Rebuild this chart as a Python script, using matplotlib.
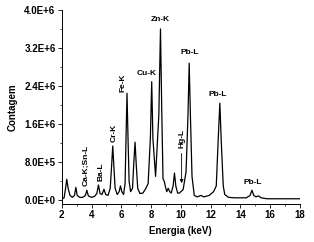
import matplotlib
matplotlib.use('Agg')
import matplotlib.pyplot as plt
from matplotlib.ticker import MultipleLocator, FuncFormatter

plt.rcParams['font.family'] = ['Liberation Sans', 'DejaVu Sans']
plt.rcParams['font.weight'] = 'bold'
plt.rcParams['font.size'] = 6

# spectrum (keV, counts)
energy = [2.00, 2.15, 2.25, 2.33, 2.42, 2.55, 2.70, 2.85, 2.94, 3.03,
          3.20, 3.40, 3.58, 3.68, 3.78, 4.00, 4.20, 4.35, 4.46, 4.57,
          4.70, 4.83, 4.95, 5.10, 5.25, 5.35, 5.42, 5.49, 5.58, 5.72,
          5.85, 5.94, 6.03, 6.15, 6.25, 6.32, 6.38, 6.44, 6.52, 6.62,
          6.75, 6.83, 6.92, 7.00, 7.10, 7.25, 7.45, 7.65, 7.80, 7.95,
          8.04, 8.12, 8.30, 8.52, 8.63, 8.72, 8.80, 8.88, 8.95, 9.05,
          9.15, 9.25, 9.35, 9.48, 9.57, 9.66, 9.78, 9.90, 10.00, 10.15,
          10.35, 10.48, 10.56, 10.64, 10.75, 10.90, 11.10, 11.35, 11.55, 11.90,
          12.20, 12.38, 12.50, 12.62, 12.72, 12.85, 12.95, 13.20, 13.60, 14.00,
          14.40, 14.65, 14.78, 14.90, 15.05, 15.22, 15.40, 15.80, 16.50, 17.50,
          18.00]
counts = [0.02e6, 0.05e6, 0.25e6, 0.44e6, 0.25e6, 0.10e6, 0.06e6, 0.10e6, 0.27e6, 0.10e6,
          0.06e6, 0.06e6, 0.10e6, 0.21e6, 0.09e6, 0.06e6, 0.08e6, 0.14e6, 0.32e6, 0.14e6,
          0.12e6, 0.23e6, 0.12e6, 0.10e6, 0.25e6, 0.75e6, 1.14e6, 0.75e6, 0.25e6, 0.12e6,
          0.18e6, 0.30e6, 0.18e6, 0.12e6, 0.35e6, 1.40e6, 2.25e6, 1.40e6, 0.40e6, 0.18e6,
          0.25e6, 0.75e6, 1.22e6, 0.75e6, 0.25e6, 0.14e6, 0.15e6, 0.25e6, 0.35e6, 1.30e6,
          2.49e6, 1.30e6, 0.50e6, 1.80e6, 3.60e6, 1.80e6, 0.45e6, 0.40e6, 0.30e6, 0.18e6,
          0.25e6, 0.18e6, 0.15e6, 0.30e6, 0.57e6, 0.30e6, 0.15e6, 0.15e6, 0.18e6, 0.22e6,
          0.60e6, 1.80e6, 2.88e6, 1.80e6, 0.50e6, 0.10e6, 0.07e6, 0.10e6, 0.07e6, 0.10e6,
          0.18e6, 0.30e6, 1.20e6, 2.04e6, 1.20e6, 0.30e6, 0.12e6, 0.06e6, 0.05e6, 0.05e6,
          0.05e6, 0.10e6, 0.21e6, 0.10e6, 0.07e6, 0.09e6, 0.05e6, 0.03e6, 0.03e6, 0.03e6,
          0.03e6]

# peak labels: text, x, y, rotation
labels = ['Ca-K;Sn-L', 'Ba-L', 'Cr-K', 'Fe-K', 'Cu-K', 'Zn-K', 'Hg-L', 'Pb-L', 'Pb-L', 'Pb-L']
label_x = [3.6, 4.6, 5.5, 6.1, 7.7, 8.6, 10.1, 10.6, 12.5, 14.8]
label_y = [0.30e6, 0.40e6, 1.22e6, 2.27e6, 2.67e6, 3.79e6, 1.10e6, 3.10e6, 2.23e6, 0.38e6]
label_rot = [90, 90, 90, 90, 0, 0, 90, 0, 0, 0]


def sci(v, pos):
    if v <= 0:
        return '0.0E+0'
    e = len(str(int(round(v)))) - 1
    return '{:.1f}E+{:d}'.format(v / 10 ** e, e)


fig = plt.figure(figsize=(3.14, 2.42), dpi=100)
ax = fig.add_axes([0.197, 0.157, 0.758, 0.802])
ax.plot(energy, counts, color='black', lw=0.9)

for t, x, y, r in zip(labels, label_x, label_y, label_rot):
    if r == 90:
        ax.text(x, y, t, rotation=90, ha='center', va='bottom', fontsize=6, fontweight='bold')
    else:
        ax.text(x, y, t, ha='center', va='center', fontsize=6, fontweight='bold')

# arrow for Hg-L
ax.annotate('', xy=(10.05, 0.30e6), xytext=(10.05, 1.04e6),
            arrowprops=dict(arrowstyle='-|>', color='black', lw=0.6,
                            mutation_scale=5))

ax.set_xlim(2, 18)
ax.set_ylim(-0.08e6, 4.0e6)
ax.xaxis.set_major_locator(MultipleLocator(2))
ax.xaxis.set_minor_locator(MultipleLocator(1))
ax.yaxis.set_major_locator(MultipleLocator(0.8e6))
ax.yaxis.set_minor_locator(MultipleLocator(0.4e6))
ax.yaxis.set_major_formatter(FuncFormatter(sci))
ax.tick_params(which='major', length=3, width=0.6, labelsize=7, pad=1.5)
ax.tick_params(which='minor', length=1.5, width=0.5)
for side in ['top', 'right']:
    ax.spines[side].set_visible(False)
for side in ['left', 'bottom']:
    ax.spines[side].set_linewidth(0.7)
for lab in ax.get_xticklabels() + ax.get_yticklabels():
    lab.set_fontweight('bold')

ax.set_xlabel('Energia (keV)', fontsize=7, fontweight='bold', labelpad=4)
ax.set_ylabel('Contagem', fontsize=7, fontweight='bold', labelpad=5)

fig.savefig('out.png', dpi=100)
